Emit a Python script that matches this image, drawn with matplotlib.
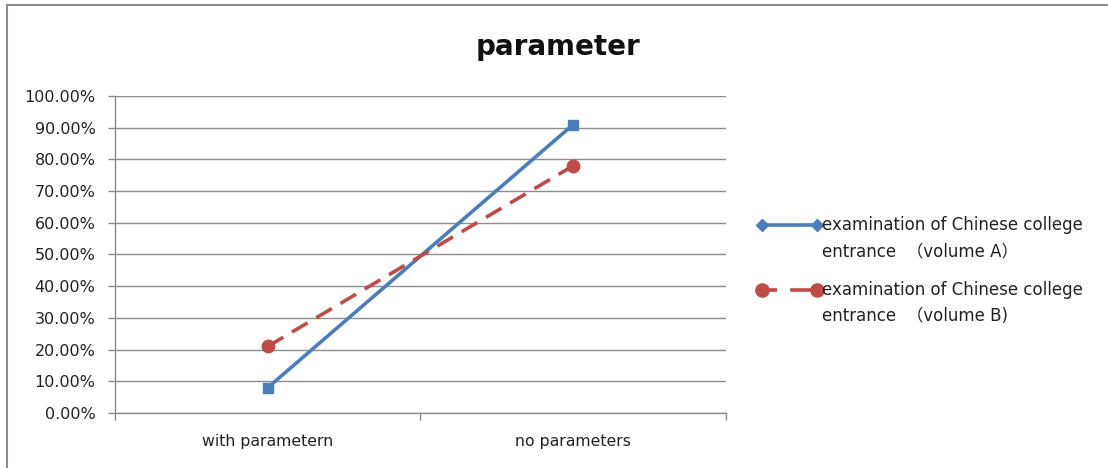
import matplotlib
matplotlib.use("Agg")
import matplotlib.pyplot as plt
from matplotlib.lines import Line2D
from matplotlib.ticker import PercentFormatter

categories = ["with parametern", "no parameters"]
volume_a = [8.0, 91.0]
volume_b = [21.0, 78.0]
series_labels = ["examination of Chinese college\nentrance  （volume A）",
                 "examination of Chinese college\nentrance  （volume B)"]
y_ticks = [0, 10, 20, 30, 40, 50, 60, 70, 80, 90, 100]

BLUE = "#4A7EBB"
RED = "#BE4B48"
GRID = "#8C8C8C"
FONTS = ["DejaVu Sans", "Noto Sans CJK SC"]

fig = plt.figure(figsize=(11.08, 4.68), dpi=100)
fig.patch.set_facecolor("white")

ax = fig.add_axes([0.1038, 0.1175, 0.5514, 0.6774])
x = list(range(len(categories)))

ax.plot(x, volume_a, color=BLUE, lw=2.6, marker="s", ms=6.5,
        solid_capstyle="round", zorder=3)
ax.plot(x, volume_b, color=RED, lw=2.6, ls=(0, (5, 2.8)), marker="o", ms=9,
        zorder=3)

ax.set_xlim(-0.5, len(categories) - 0.5)
ax.set_ylim(0, 100)
ax.set_yticks(y_ticks)
ax.yaxis.set_major_formatter(PercentFormatter(decimals=2))
ax.set_xticks(x)
ax.set_xticklabels(categories)
ax.set_xticks([-0.5, 0.5, 1.5], minor=True)
ax.tick_params(axis="x", which="major", length=0, pad=15, labelsize=11.3,
               labelcolor="#222222")
ax.tick_params(axis="x", which="minor", length=5, color=GRID, width=1)
ax.tick_params(axis="y", length=5, color=GRID, width=1, labelsize=11.5,
               labelcolor="#222222", pad=9)

ax.grid(axis="y", color=GRID, lw=1)
ax.set_axisbelow(True)
for side in ["top", "right"]:
    ax.spines[side].set_visible(False)
for side in ["left", "bottom"]:
    ax.spines[side].set_color(GRID)
    ax.spines[side].set_linewidth(1)

fig.text(0.5036, 0.90, "parameter", ha="center", va="center",
         fontsize=20, fontweight="bold", color="#111111")

# legend, handle aligned with the first text line
W, H = 1108.0, 468.0
entries = [
    (BLUE, "-", "D", 6.5, series_labels[0], 225),
    (RED, (0, (4.2, 3.6, 7.5, 3)), "o", 9.5, series_labels[1], 290),
]
for color, ls, mk, ms, label, ypix in entries:
    yf = 1 - ypix / H
    fig.add_artist(Line2D([762 / W, 817 / W], [yf, yf], color=color, lw=2.6,
                          ls=ls, transform=fig.transFigure))
    fig.add_artist(Line2D([762 / W, 817 / W], [yf, yf], color=color, lw=0,
                          marker=mk, ms=ms, transform=fig.transFigure))
    first, second = label.split("\n")
    fig.text(822 / W, yf, first, ha="left", va="center",
             fontsize=12, color="#222222", family=FONTS)
    fig.text(822 / W, yf - 26 / H, second, ha="left",
             va="center", fontsize=12, color="#222222", family=FONTS)

# chart frame
fig.add_artist(Line2D([7 / W, 1.0], [1 - 5 / H, 1 - 5 / H], color="#8C8C8C",
                      lw=1.5, transform=fig.transFigure))
fig.add_artist(Line2D([7 / W, 7 / W], [0, 1 - 5 / H], color="#8C8C8C",
                      lw=1.5, transform=fig.transFigure))

fig.savefig("out.png", dpi=100, facecolor="white")
